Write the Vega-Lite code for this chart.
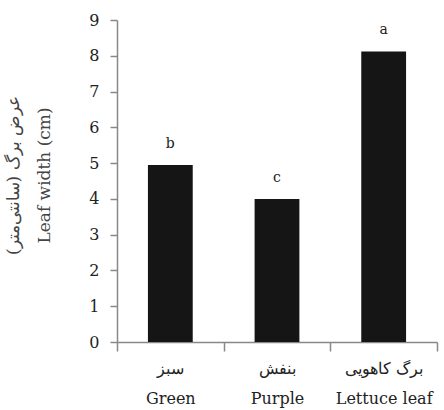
{
  "$schema": "https://vega.github.io/schema/vega-lite/v6.json",
  "autosize": {"type": "none"},
  "padding": {"left": 117, "top": 20, "right": 7, "bottom": 68},
  "width": 320,
  "height": 322,
  "background": "white",
  "config": {"view": {"stroke": null}, "font": "DejaVu Serif"},
  "data": {"values": [
    {"label": "سبز\nGreen", "width": 4.95, "group": "b"},
    {"label": "بنفش\nPurple", "width": 4.0, "group": "c"},
    {"label": "برگ کاهویی\nLettuce leaf", "width": 8.12, "group": "a"}
  ]},
  "encoding": {
    "x": {"field": "label", "type": "nominal", "sort": null,
      "scale": {"paddingInner": 0, "paddingOuter": 0},
      "axis": {"title": null, "labelAngle": 0, "labelExpr": "split(datum.label, '\\n')",
        "labelFont": "DejaVu Serif", "labelFontSize": 16, "labelColor": "#222",
        "labelLineHeight": 30, "labelPadding": 9, "labelBaseline": "top",
        "tickBand": "extent", "tickSize": 9, "tickColor": "#888", "domainColor": "#888",
        "domainWidth": 1.5, "tickWidth": 1.5}},
    "y": {"field": "width", "type": "quantitative",
      "scale": {"domain": [0, 9], "nice": false},
      "axis": {"values": [0,1,2,3,4,5,6,7,8,9], "grid": false,
        "title": ["عرض برگ (سانتی‌متر)", "Leaf width (cm)"],
        "titleFont": "DejaVu Serif", "titleFontSize": 17, "titleFontWeight": "normal",
        "titleColor": "#444", "titleLineHeight": 31, "titleAngle": -90,
        "titleBaseline": "bottom", "titleX": -95, "titleY": 155,
        "labelFont": "DejaVu Serif", "labelFontSize": 16, "labelColor": "#222",
        "labelPadding": 11, "tickSize": 7, "tickColor": "#888", "domainColor": "#888",
        "domainWidth": 1.5, "tickWidth": 1.5}}
  },
  "layer": [
    {"mark": {"type": "bar", "color": "#151515", "width": {"band": 0.42}}},
    {"mark": {"type": "text", "baseline": "bottom", "dy": -14, "fontSize": 14, "font": "DejaVu Serif", "color": "#222"},
      "encoding": {"text": {"field": "group"}}}
  ]
}
